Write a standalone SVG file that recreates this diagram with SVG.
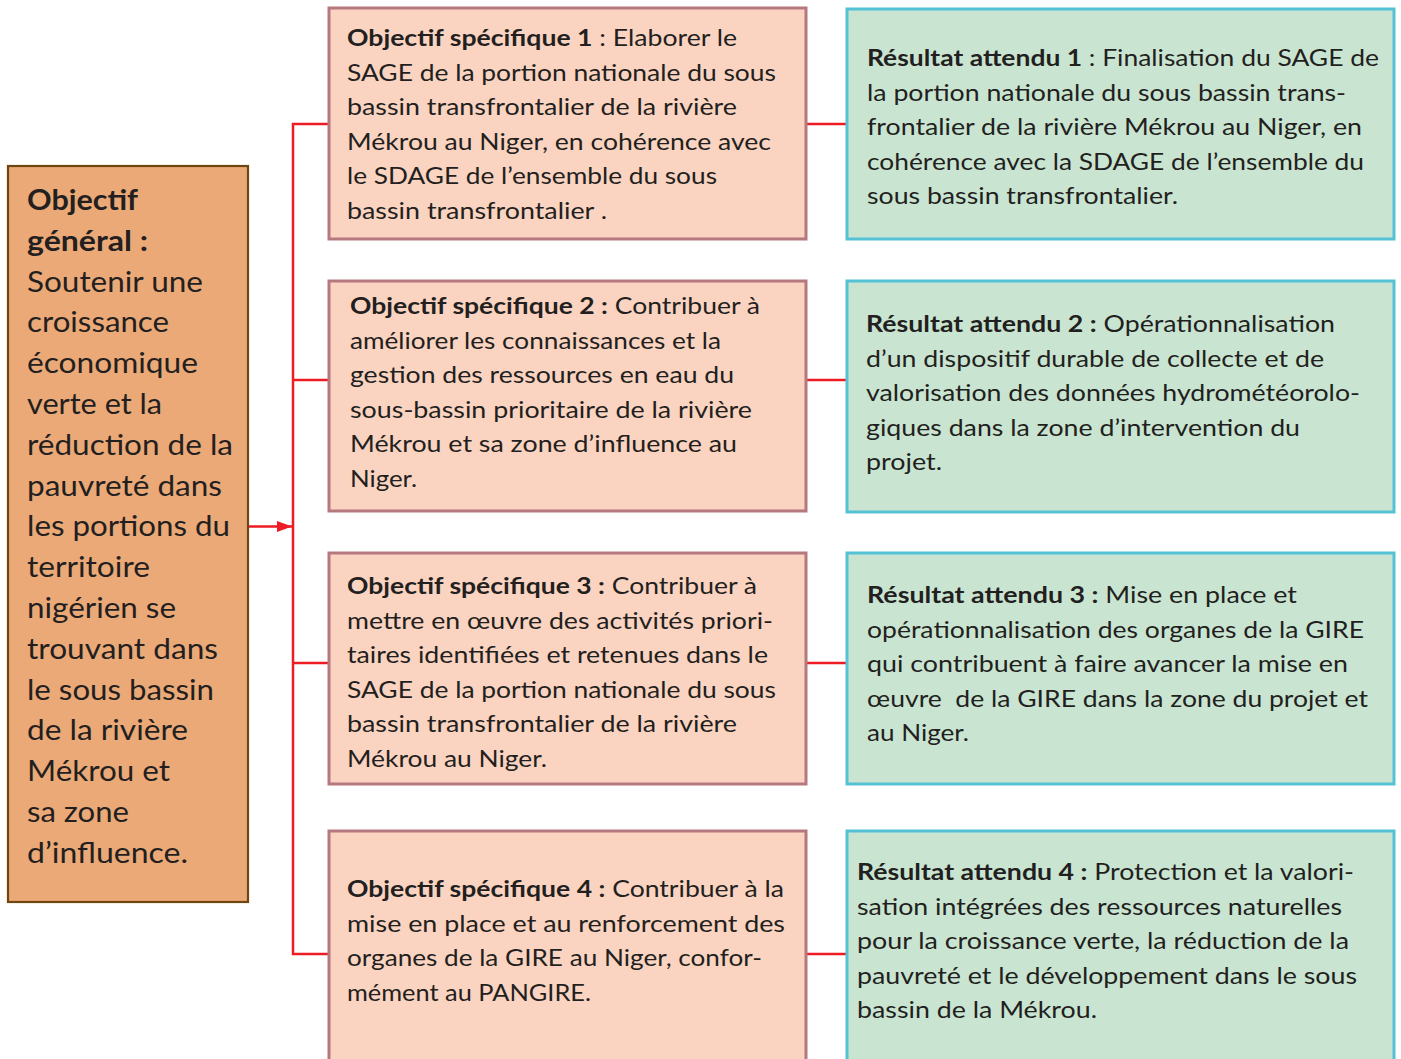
<svg xmlns="http://www.w3.org/2000/svg" width="1401" height="1059" viewBox="0 0 1401 1059">
<style>
text{font-family:Lato,"Open Sans","Liberation Sans",sans-serif;fill:#231F20;}
.t{font-size:23px;}
.g{font-size:29px;}
.b{font-weight:bold;}
.obj{fill:#FAD4C0;stroke:#B5787E;stroke-width:3;}
.res{fill:#C9E5D2;stroke:#55C1D6;stroke-width:3;}
.gen{fill:#EBA977;stroke:#6F4510;stroke-width:2.2;}
.c{fill:none;stroke:#ED1C24;stroke-width:2.5;}
</style>
<defs>
<marker id="ah" markerWidth="16" markerHeight="12" refX="15" refY="6" orient="auto" markerUnits="userSpaceOnUse">
<path d="M0,0.5 L15,6 L0,11.5 Z" fill="#ED1C24"/>
</marker>
</defs>
<rect width="1401" height="1059" fill="#FFFFFF"/>
<g id="connectors">
<line class="c" x1="248" y1="526.5" x2="292" y2="526.5" marker-end="url(#ah)"/>
<polyline class="c" points="329,124 293,124 293,954 329,954"/>
<line class="c" x1="293" y1="380" x2="329" y2="380"/>
<line class="c" x1="293" y1="663" x2="329" y2="663"/>
<line class="c" x1="806" y1="124" x2="847" y2="124"/>
<line class="c" x1="806" y1="380" x2="847" y2="380"/>
<line class="c" x1="806" y1="663" x2="847" y2="663"/>
<line class="c" x1="806" y1="954" x2="847" y2="954"/>
</g>
<g id="objectif-general">
<rect class="gen" x="8" y="166" width="240" height="736"/>
<text class="g b" x="27" y="210" textLength="111" lengthAdjust="spacingAndGlyphs">Objectif</text>
<text class="g b" x="27" y="250.8" textLength="121" lengthAdjust="spacingAndGlyphs">général :</text>
<text class="g" x="27" y="291.6" textLength="176" lengthAdjust="spacingAndGlyphs">Soutenir une</text>
<text class="g" x="27" y="332.4" textLength="142" lengthAdjust="spacingAndGlyphs">croissance</text>
<text class="g" x="27" y="373.2" textLength="171" lengthAdjust="spacingAndGlyphs">économique</text>
<text class="g" x="27" y="414" textLength="135" lengthAdjust="spacingAndGlyphs">verte et la</text>
<text class="g" x="27" y="454.8" textLength="206" lengthAdjust="spacingAndGlyphs">réduction de la</text>
<text class="g" x="27" y="495.6" textLength="195" lengthAdjust="spacingAndGlyphs">pauvreté dans</text>
<text class="g" x="27" y="536.4" textLength="203" lengthAdjust="spacingAndGlyphs">les portions du</text>
<text class="g" x="27" y="577.2" textLength="123" lengthAdjust="spacingAndGlyphs">territoire</text>
<text class="g" x="27" y="618" textLength="149" lengthAdjust="spacingAndGlyphs">nigérien se</text>
<text class="g" x="27" y="658.8" textLength="191" lengthAdjust="spacingAndGlyphs">trouvant dans</text>
<text class="g" x="27" y="699.6" textLength="187" lengthAdjust="spacingAndGlyphs">le sous bassin</text>
<text class="g" x="27" y="740.4" textLength="161" lengthAdjust="spacingAndGlyphs">de la rivière</text>
<text class="g" x="27" y="781.2" textLength="143" lengthAdjust="spacingAndGlyphs">Mékrou et</text>
<text class="g" x="27" y="822" textLength="102" lengthAdjust="spacingAndGlyphs">sa zone</text>
<text class="g" x="27" y="862.8" textLength="161" lengthAdjust="spacingAndGlyphs">d’influence.</text>
</g>
<g id="objectif-1">
<rect class="obj" x="329" y="8" width="477" height="231"/>
<text class="t" x="347" y="46" textLength="390" lengthAdjust="spacingAndGlyphs"><tspan class="b">Objectif spécifique 1</tspan> : Elaborer le</text>
<text class="t" x="347" y="80.5" textLength="429" lengthAdjust="spacingAndGlyphs">SAGE de la portion nationale du sous</text>
<text class="t" x="347" y="115" textLength="390" lengthAdjust="spacingAndGlyphs">bassin transfrontalier de la rivière</text>
<text class="t" x="347" y="149.5" textLength="424" lengthAdjust="spacingAndGlyphs">Mékrou au Niger, en cohérence avec</text>
<text class="t" x="347" y="184" textLength="370" lengthAdjust="spacingAndGlyphs">le SDAGE de l’ensemble du sous</text>
<text class="t" x="347" y="218.5" textLength="260" lengthAdjust="spacingAndGlyphs">bassin transfrontalier .</text>
</g>
<g id="objectif-2">
<rect class="obj" x="329" y="281" width="477" height="230"/>
<text class="t" x="350" y="314" textLength="410" lengthAdjust="spacingAndGlyphs"><tspan class="b">Objectif spécifique 2 :</tspan> Contribuer à</text>
<text class="t" x="350" y="348.5" textLength="371" lengthAdjust="spacingAndGlyphs">améliorer les connaissances et la</text>
<text class="t" x="350" y="383" textLength="384" lengthAdjust="spacingAndGlyphs">gestion des ressources en eau du</text>
<text class="t" x="350" y="417.5" textLength="402" lengthAdjust="spacingAndGlyphs">sous-bassin prioritaire de la rivière</text>
<text class="t" x="350" y="452" textLength="387" lengthAdjust="spacingAndGlyphs">Mékrou et sa zone d’influence au</text>
<text class="t" x="350" y="486.5" textLength="67" lengthAdjust="spacingAndGlyphs">Niger.</text>
</g>
<g id="objectif-3">
<rect class="obj" x="329" y="553" width="477" height="231"/>
<text class="t" x="347" y="594" textLength="410" lengthAdjust="spacingAndGlyphs"><tspan class="b">Objectif spécifique 3 :</tspan> Contribuer à</text>
<text class="t" x="347" y="628.5" textLength="426" lengthAdjust="spacingAndGlyphs">mettre en œuvre des activités priori-</text>
<text class="t" x="347" y="663" textLength="421" lengthAdjust="spacingAndGlyphs">taires identifiées et retenues dans le</text>
<text class="t" x="347" y="697.5" textLength="429" lengthAdjust="spacingAndGlyphs">SAGE de la portion nationale du sous</text>
<text class="t" x="347" y="732" textLength="390" lengthAdjust="spacingAndGlyphs">bassin transfrontalier de la rivière</text>
<text class="t" x="347" y="766.5" textLength="200" lengthAdjust="spacingAndGlyphs">Mékrou au Niger.</text>
</g>
<g id="objectif-4">
<rect class="obj" x="329" y="831" width="477" height="240"/>
<text class="t" x="347" y="897" textLength="437" lengthAdjust="spacingAndGlyphs"><tspan class="b">Objectif spécifique 4 :</tspan> Contribuer à la</text>
<text class="t" x="347" y="931.5" textLength="438" lengthAdjust="spacingAndGlyphs">mise en place et au renforcement des</text>
<text class="t" x="347" y="966" textLength="415" lengthAdjust="spacingAndGlyphs">organes de la GIRE au Niger, confor-</text>
<text class="t" x="347" y="1000.5" textLength="244" lengthAdjust="spacingAndGlyphs">mément au PANGIRE.</text>
</g>
<g id="resultat-1">
<rect class="res" x="847" y="9" width="547" height="230"/>
<text class="t" x="867" y="66" textLength="512" lengthAdjust="spacingAndGlyphs"><tspan class="b">Résultat attendu 1</tspan> : Finalisation du SAGE de</text>
<text class="t" x="867" y="100.5" textLength="479" lengthAdjust="spacingAndGlyphs">la portion nationale du sous bassin trans-</text>
<text class="t" x="867" y="135" textLength="495" lengthAdjust="spacingAndGlyphs">frontalier de la rivière Mékrou au Niger, en</text>
<text class="t" x="867" y="169.5" textLength="497" lengthAdjust="spacingAndGlyphs">cohérence avec la SDAGE de l’ensemble du</text>
<text class="t" x="867" y="204" textLength="311" lengthAdjust="spacingAndGlyphs">sous bassin transfrontalier.</text>
</g>
<g id="resultat-2">
<rect class="res" x="847" y="281" width="547" height="231"/>
<text class="t" x="866" y="332" textLength="469" lengthAdjust="spacingAndGlyphs"><tspan class="b">Résultat attendu 2 :</tspan> Opérationnalisation</text>
<text class="t" x="866" y="366.5" textLength="458" lengthAdjust="spacingAndGlyphs">d’un dispositif durable de collecte et de</text>
<text class="t" x="866" y="401" textLength="494" lengthAdjust="spacingAndGlyphs">valorisation des données hydrométéorolo-</text>
<text class="t" x="866" y="435.5" textLength="434" lengthAdjust="spacingAndGlyphs">giques dans la zone d’intervention du</text>
<text class="t" x="866" y="470" textLength="76" lengthAdjust="spacingAndGlyphs">projet.</text>
</g>
<g id="resultat-3">
<rect class="res" x="847" y="553" width="547" height="231"/>
<text class="t" x="867" y="603" textLength="430" lengthAdjust="spacingAndGlyphs"><tspan class="b">Résultat attendu 3 :</tspan> Mise en place et</text>
<text class="t" x="867" y="637.5" textLength="497" lengthAdjust="spacingAndGlyphs">opérationnalisation des organes de la GIRE</text>
<text class="t" x="867" y="672" textLength="481" lengthAdjust="spacingAndGlyphs">qui contribuent à faire avancer la mise en</text>
<text class="t" x="867" y="706.5" textLength="501" lengthAdjust="spacingAndGlyphs" xml:space="preserve">œuvre  de la GIRE dans la zone du projet et</text>
<text class="t" x="867" y="741" textLength="102" lengthAdjust="spacingAndGlyphs">au Niger.</text>
</g>
<g id="resultat-4">
<rect class="res" x="847" y="831" width="547" height="240"/>
<text class="t" x="857" y="880" textLength="497" lengthAdjust="spacingAndGlyphs"><tspan class="b">Résultat attendu 4 :</tspan> Protection et la valori-</text>
<text class="t" x="857" y="914.5" textLength="485" lengthAdjust="spacingAndGlyphs">sation intégrées des ressources naturelles</text>
<text class="t" x="857" y="949" textLength="492" lengthAdjust="spacingAndGlyphs">pour la croissance verte, la réduction de la</text>
<text class="t" x="857" y="983.5" textLength="500" lengthAdjust="spacingAndGlyphs">pauvreté et le développement dans le sous</text>
<text class="t" x="857" y="1018" textLength="240" lengthAdjust="spacingAndGlyphs">bassin de la Mékrou.</text>
</g>
</svg>
